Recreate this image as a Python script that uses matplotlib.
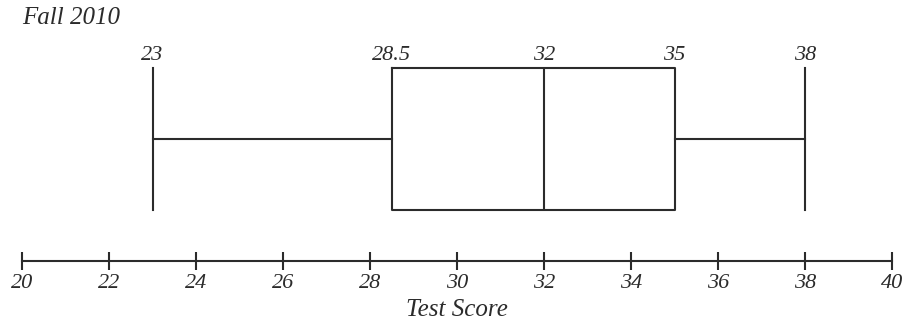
import matplotlib.pyplot as plt

# five-number summary, Fall 2010
stat_names = ['min', 'q1', 'median', 'q3', 'max']
stat_values = [23, 28.5, 32, 35, 38]
stat_labels = ['23', '28.5', '32', '35', '38']
tick_values = list(range(20, 41, 2))

plt.rcParams['font.family'] = ['Liberation Serif', 'DejaVu Serif']
plt.rcParams['font.style'] = 'italic'
ink = '#2b2b2b'

fig = plt.figure(figsize=(9.08, 3.25), dpi=100)
ax = fig.add_axes([22 / 908, 0, 870 / 908, 1])
ax.set_xlim(20, 40)
ax.set_ylim(325, 0)  # y in pixel rows, top at 0

stats = [{
    'whislo': stat_values[0], 'q1': stat_values[1], 'med': stat_values[2],
    'q3': stat_values[3], 'whishi': stat_values[4], 'fliers': [],
}]
line = dict(color=ink, linewidth=1.5)
ax.bxp(stats, positions=[139], widths=142, capwidths=142,
       orientation='horizontal', showfliers=False,
       boxprops=line, whiskerprops=line, capprops=line, medianprops=line)

for v, lab in zip(stat_values, stat_labels):
    ax.text(v, 60, lab, ha='center', va='baseline', fontsize=16, color=ink)

# number line
for s in ['top', 'left', 'right']:
    ax.spines[s].set_visible(False)
ax.spines['bottom'].set_position(('data', 261))
ax.spines['bottom'].set_linewidth(1.5)
ax.spines['bottom'].set_color(ink)
ax.set_xticks(tick_values)
ax.set_xticklabels([str(t) for t in tick_values])
ax.tick_params(axis='x', direction='inout', length=13, width=1.5, color=ink,
               labelsize=16, labelcolor=ink, pad=2.5)
ax.set_yticks([])
ax.set_facecolor('none')

fig.text(457 / 908, 1 - 316 / 325, 'Test Score', ha='center', va='baseline',
         fontsize=18, color=ink)
fig.text(22 / 908, 1 - 24 / 325, 'Fall 2010', ha='left', va='baseline',
         fontsize=18, color=ink)

fig.savefig('out.png', dpi=100)
